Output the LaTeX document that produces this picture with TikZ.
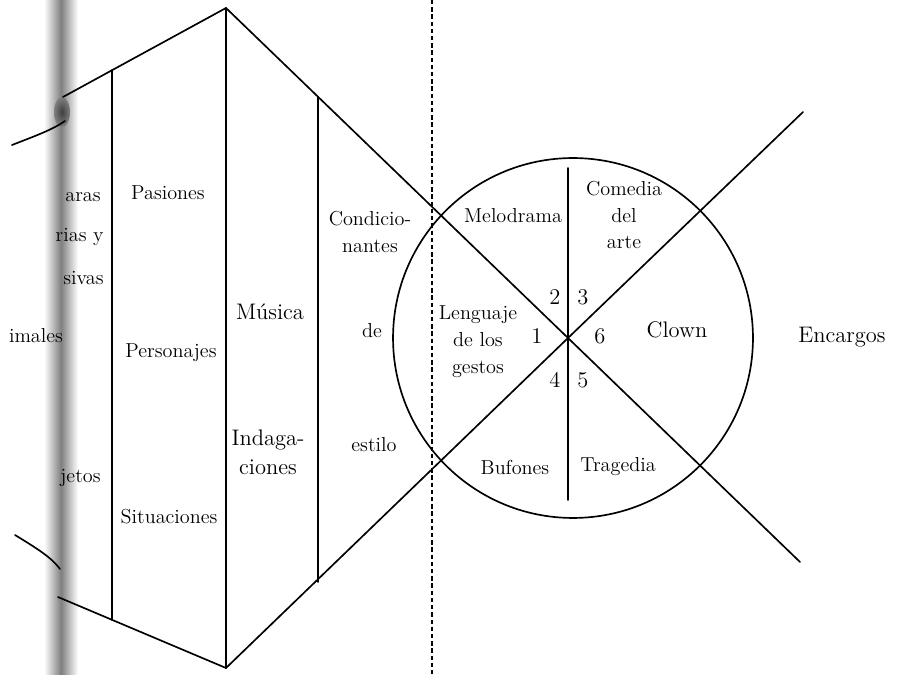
\documentclass[tikz,border=0pt]{standalone}
\begin{document}
\begin{tikzpicture}[x=0.02cm,y=-0.02cm,
  ln/.style={line width=0.95pt,line cap=round},
  sm/.style={font=\fontsize{11.5}{15.3}\selectfont,align=center,inner sep=0pt},
  lg/.style={font=\fontsize{12.8}{16.5}\selectfont,align=center,inner sep=0pt}]
\useasboundingbox (0,0) rectangle (906,675);
% binding shadow
\shade[left color=white,right color=white,middle color=black!50] (44,0) rectangle (78,675);
\shade[inner color=black!75,outer color=black!50] (62,112) ellipse [x radius=0.16cm,y radius=0.3cm];
% coordinates
\coordinate (T) at (226,8);
\coordinate (B) at (226,668);
\coordinate (X) at (568,338);
\coordinate (Aend) at (800,562);
\coordinate (Bend) at (803,112);
\coordinate (UL) at (63,97);
\coordinate (LL) at (58,597);
\coordinate (O) at (573,338);
% outer shape
\draw[ln] (UL) -- (T) -- (X) -- (Aend);
\draw[ln] (LL) -- (B) -- (X) -- (Bend);
\draw[ln] (12,145) .. controls (35,136) and (52,130) .. (65,121);
\draw[ln] (15,535) .. controls (38,549) and (52,558) .. (60,569);
\draw[ln] (112,70) -- (112,620);
\draw[ln] (T) -- (B);
\draw[ln] (318,97) -- (318,582);
% circle
\draw[ln] (O) circle [radius=3.6cm];
\draw[ln] (568,168) -- (568,500);
% dashed divider
\draw[line width=0.9pt,dash pattern=on 2.5pt off 1.6pt] (432,0) -- (432,675);
% left column texts
\node[sm,anchor=east] (t1) at (101,197) {aras};
\node[sm,anchor=east] (t2) at (104,237) {rias y};
\node[sm,anchor=east] (t3) at (104,278) {sivas};
\node[sm] (t4) at (36,336) {imales};
\node[sm,anchor=east] (t5) at (101,478) {jetos};
\node[sm] (pas) at (168,193) {Pasiones};
\node[sm] (per) at (171,353) {Personajes};
\node[sm] (sit) at (169,517) {Situaciones};
\node[lg] (mus) at (270,312) {Música};
\node[lg] (ind) at (268,452) {Indaga-\\ciones};
\node[sm] (con) at (370,232) {Condicio-\\nantes};
\node[sm] (de) at (372,331) {de};
\node[sm] (est) at (374,445) {estilo};
% circle texts
\node[sm] (mel) at (513,216) {Melodrama};
\node[sm] (com) at (624,215) {Comedia\\del\\arte};
\node[sm] (len) at (478,342) {Lenguaje\\de los\\gestos};
\node[lg] (clo) at (677,330) {Clown};
\node[lg] (enc) at (842,337) {Encargos};
\node[sm] (buf) at (515,467) {Bufones};
\node[sm] (tra) at (618,467) {Tragedia};
\node[lg] (n1) at (537,336) {1};
\node[lg] (n2) at (555,297) {2};
\node[lg] (n3) at (583,297) {3};
\node[lg] (n4) at (555,380) {4};
\node[lg] (n5) at (583,380) {5};
\node[lg] (n6) at (600,336) {6};
\end{tikzpicture}
\end{document}
